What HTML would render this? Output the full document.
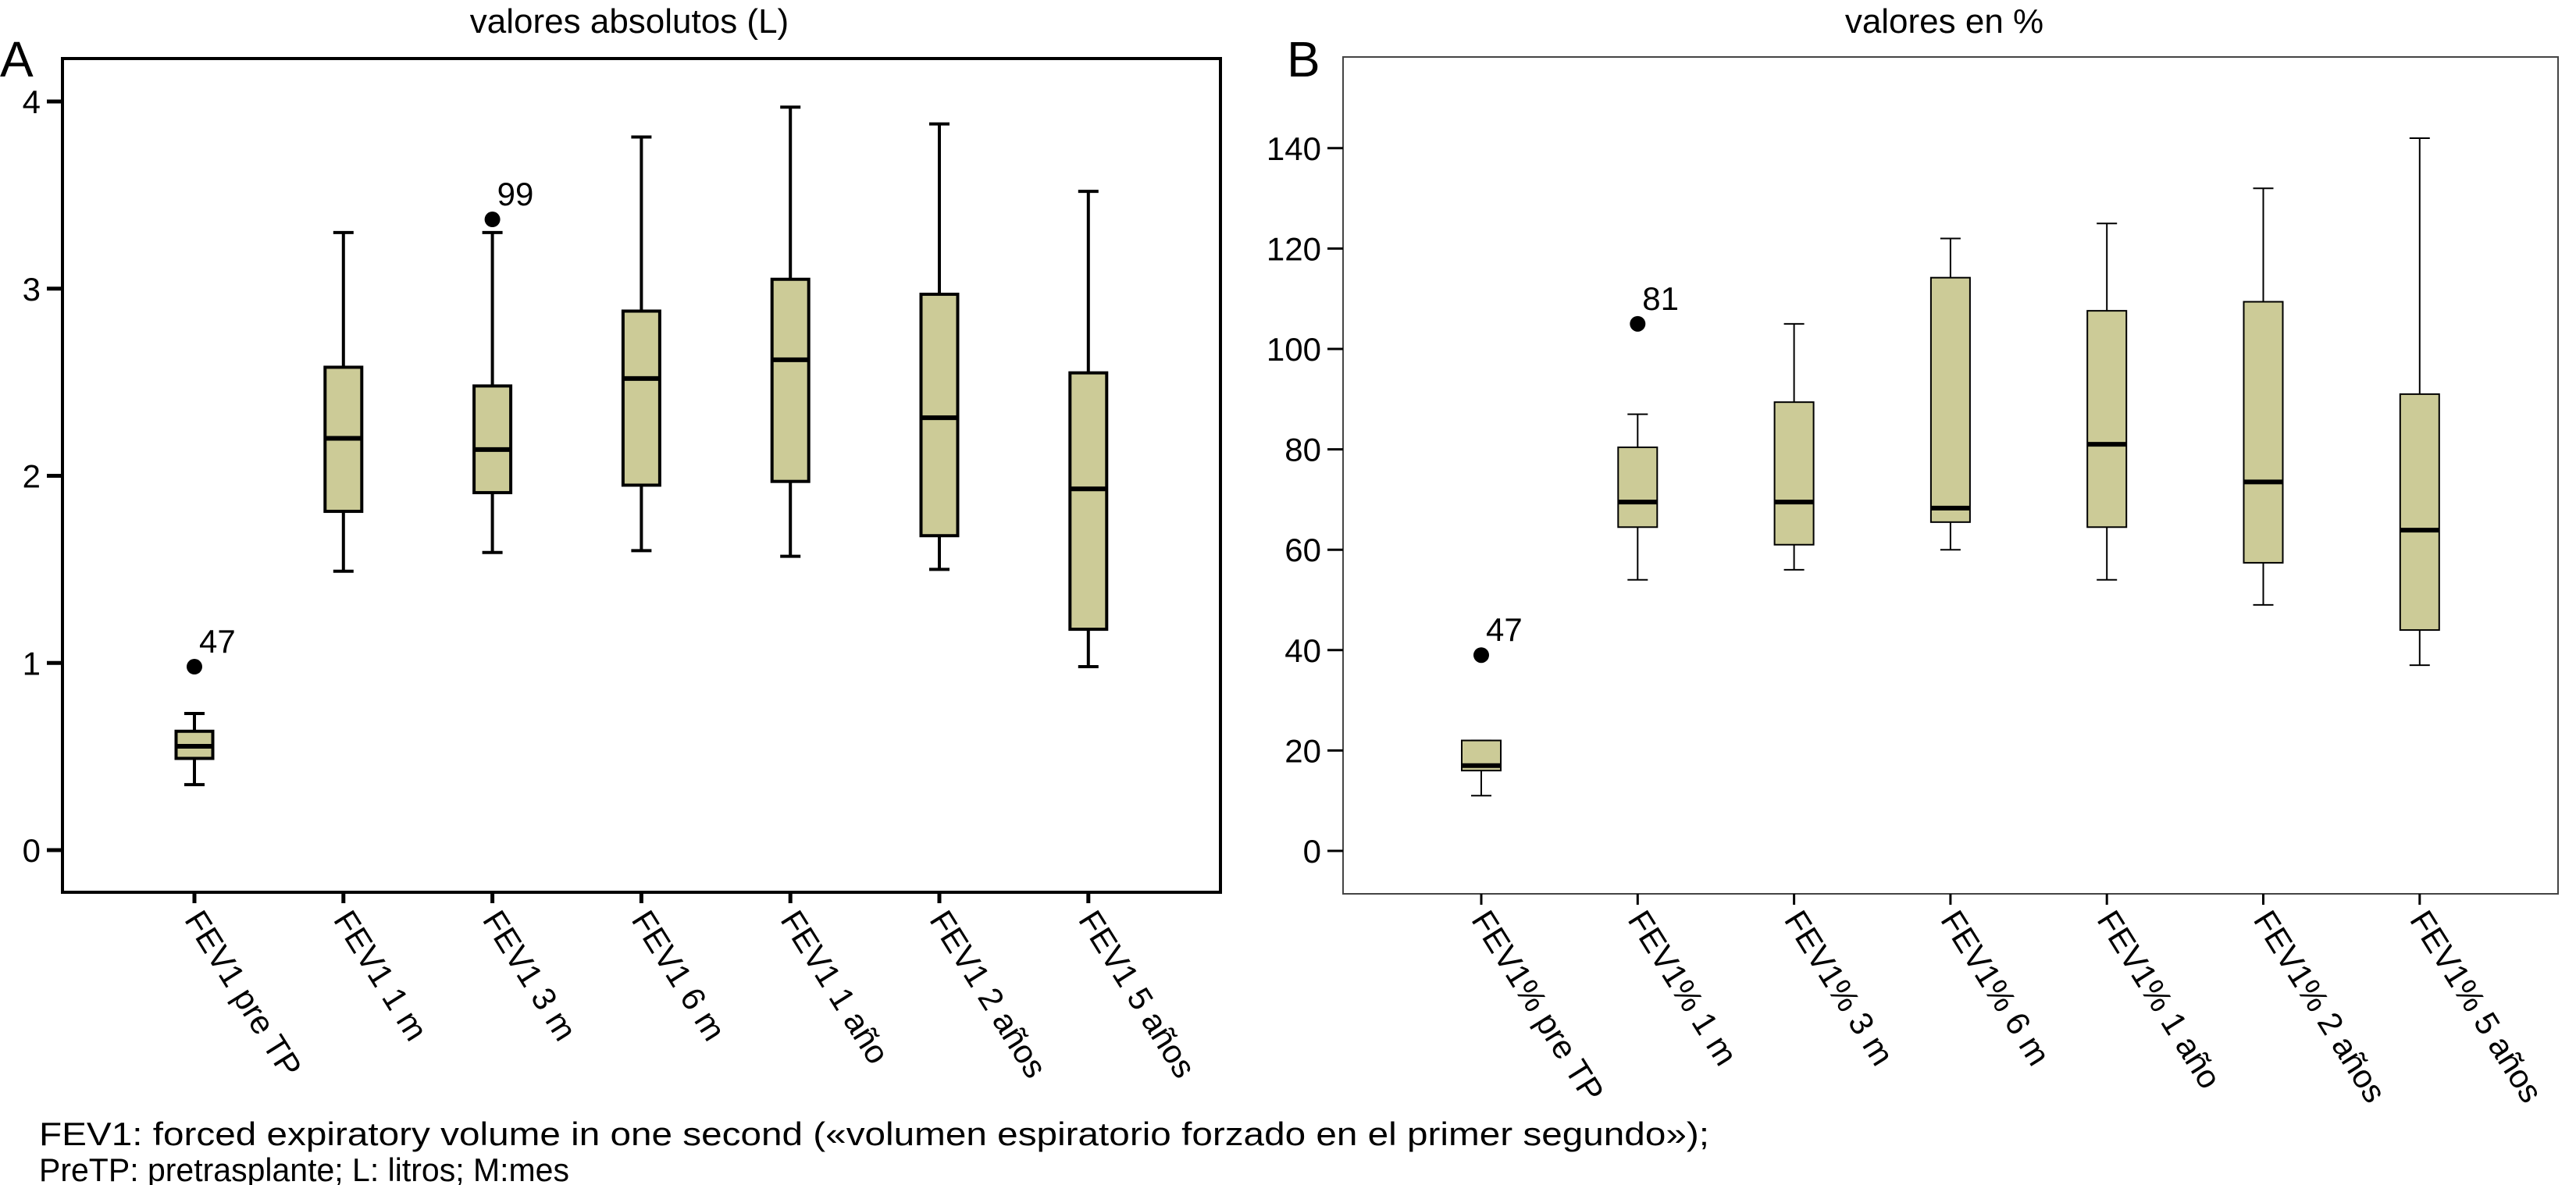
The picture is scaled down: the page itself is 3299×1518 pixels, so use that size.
<!DOCTYPE html>
<html><head><meta charset="utf-8">
<style>
html,body{margin:0;padding:0;background:#fff;}
svg{display:block;font-family:"Liberation Sans",sans-serif;}
</style></head>
<body>
<svg id="fig" width="3299" height="1518" viewBox="0 0 3299 1518" xmlns="http://www.w3.org/2000/svg">
<rect x="0" y="0" width="3299" height="1518" fill="#fff"/>
<g id="panelA"></g>
<g id="panelB"></g>
<text x="50" y="1467" font-size="42" textLength="2139" lengthAdjust="spacingAndGlyphs">FEV1: forced expiratory volume in one second («volumen espiratorio forzado en el primer segundo»);</text>
<text x="50" y="1513" font-size="42" textLength="679" lengthAdjust="spacingAndGlyphs">PreTP: pretrasplante; L: litros; M:mes</text>
</svg>
<script>
// Panel A data (litres)
const catsA = ["FEV1 pre TP","FEV1 1 m","FEV1 3 m","FEV1 6 m","FEV1 1 año","FEV1 2 años","FEV1 5 años"];
const lowA = [0.35,1.49,1.59,1.60,1.57,1.50,0.98];
const q1A  = [0.49,1.81,1.91,1.95,1.97,1.68,1.18];
const medA = [0.555,2.20,2.14,2.52,2.62,2.31,1.93];
const q3A  = [0.635,2.58,2.48,2.88,3.05,2.97,2.55];
const highA= [0.73,3.30,3.30,3.81,3.97,3.88,3.52];
const outIdxA = [0,2];
const outValA = [0.98,3.37];
const outLblA = ["47","99"];
const ticksA = [0,1,2,3,4];
// Panel B data (%)
const catsB = ["FEV1% pre TP","FEV1% 1 m","FEV1% 3 m","FEV1% 6 m","FEV1% 1 año","FEV1% 2 años","FEV1% 5 años"];
const lowB = [11,54,56,60,54,49,37];
const q1B  = [16,64.5,61,65.5,64.5,57.4,44];
const medB = [17,69.5,69.5,68.3,81,73.5,63.9];
const q3B  = [22,80.4,89.4,114.2,107.6,109.4,91];
const highB= [22,87,105,122,125,132,142];
const outIdxB = [0,1];
const outValB = [39,105];
const outLblB = ["47","81"];
const ticksB = [0,20,40,60,80,100,120,140];

const NS="http://www.w3.org/2000/svg";
function mk(parent,tag,attrs,text){const e=document.createElementNS(NS,tag);for(const k in attrs)e.setAttribute(k,attrs[k]);if(text!==undefined)e.textContent=text;parent.appendChild(e);return e;}

function panel(g,cfg){
  const yS=v=>cfg.y0+(v*cfg.ky);
  const xS=i=>cfg.x0+i*cfg.dx;
  const sw=cfg.sw;
  const t=mk(g,'text',{x:cfg.titleX,y:42,'font-size':44,'text-anchor':'middle'},cfg.title);
  
  
  const L=mk(g,'text',{x:cfg.letterX,y:98,'font-size':64},cfg.letter);
  
  
  const fr=mk(g,'rect',{x:cfg.L,y:cfg.T,width:cfg.R-cfg.L,height:cfg.B-cfg.T,fill:'none',stroke:cfg.frameCol,'stroke-width':sw});
  
  
  cfg.ticks.forEach(v=>{
    const y=yS(v);
    const tk=mk(g,'line',{x1:cfg.L-20,x2:cfg.L,y1:y,y2:y,stroke:'#000','stroke-width':sw+1});
    
    
    const tl=mk(g,'text',{x:cfg.L-28,y:y+15,'font-size':42,'text-anchor':'end'},String(v));
    
    
  });
  cfg.cats.forEach((c,i)=>{
    const x=xS(i);
    const tk=mk(g,'line',{x1:x,x2:x,y1:cfg.B,y2:cfg.B+14,stroke:'#000','stroke-width':sw+1});
    
    
    const tl=mk(g,'text',{x:0,y:0,'font-size':42,'dominant-baseline':'hanging',transform:`translate(${x+12} 1162) rotate(58)`},c);
    
    
    const bg=mk(g,'g',{});
    
    
    const hw=cfg.bw/2, cw=13;
    mk(bg,'line',{x1:x,x2:x,y1:yS(cfg.low[i]),y2:yS(cfg.q1[i]),stroke:'#000','stroke-width':sw});
    mk(bg,'line',{x1:x,x2:x,y1:yS(cfg.q3[i]),y2:yS(cfg.high[i]),stroke:'#000','stroke-width':sw});
    mk(bg,'line',{x1:x-cw,x2:x+cw,y1:yS(cfg.low[i]),y2:yS(cfg.low[i]),stroke:'#000','stroke-width':sw});
    mk(bg,'line',{x1:x-cw,x2:x+cw,y1:yS(cfg.high[i]),y2:yS(cfg.high[i]),stroke:'#000','stroke-width':sw});
    mk(bg,'rect',{x:x-hw,y:yS(cfg.q3[i]),width:cfg.bw,height:yS(cfg.q1[i])-yS(cfg.q3[i]),fill:'#cccb97',stroke:'#000','stroke-width':sw});
    mk(bg,'line',{x1:x-hw,x2:x+hw,y1:yS(cfg.med[i]),y2:yS(cfg.med[i]),stroke:'#000','stroke-width':6});
  });
  cfg.outIdx.forEach((idx,k)=>{
    const x=xS(idx), y=yS(cfg.outVal[k]);
    const d=mk(g,'circle',{cx:x,cy:y,r:10,fill:'#000'});
    
    
    const lt=mk(g,'text',{x:x+6,y:y-18,'font-size':42},cfg.outLbl[k]);
    
    
  });
}
panel(document.getElementById('panelA'),{title:'valores absolutos (L)',titleX:806,letter:'A',letterX:0,
  L:80,R:1563,T:75,B:1143,y0:1089,ky:-239.75,x0:249,dx:190.8,bw:47,sw:4,frameCol:'#000',ticks:ticksA,cats:catsA,
  low:lowA,q1:q1A,med:medA,q3:q3A,high:highA,outIdx:outIdxA,outVal:outValA,outLbl:outLblA});
panel(document.getElementById('panelB'),{title:'valores en %',titleX:2490,letter:'B',letterX:1648,
  L:1720,R:3276,T:73,B:1145,y0:1090,ky:-6.43,x0:1897,dx:200.3,bw:50,sw:2,frameCol:'#444',ticks:ticksB,cats:catsB,
  low:lowB,q1:q1B,med:medB,q3:q3B,high:highB,outIdx:outIdxB,outVal:outValB,outLbl:outLblB});
</script>
</body></html>
